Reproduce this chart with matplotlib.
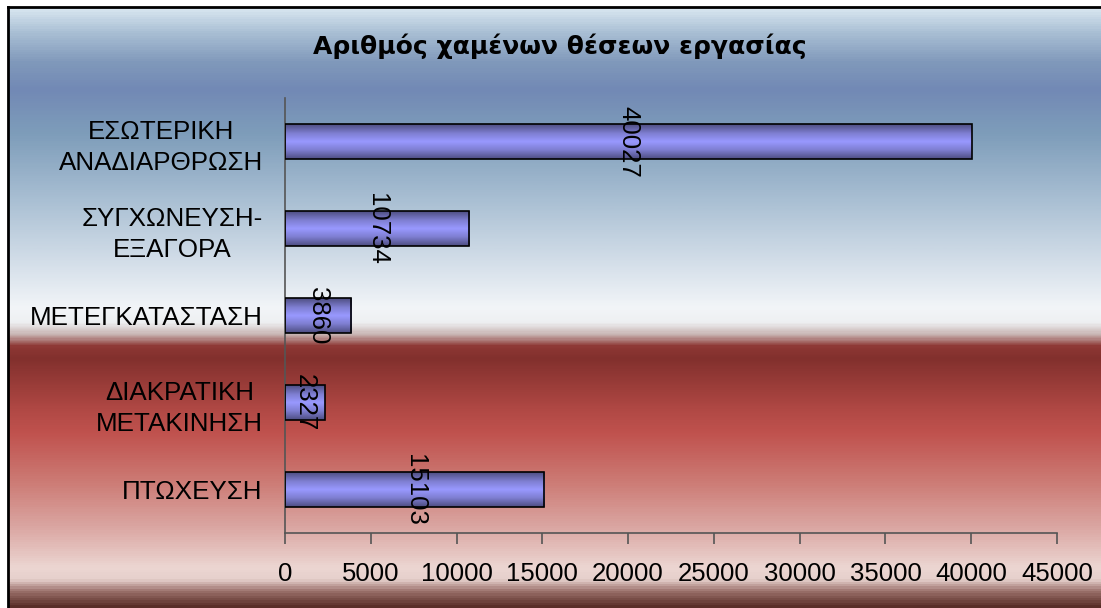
import numpy as np
import matplotlib.pyplot as plt
from matplotlib.colors import LinearSegmentedColormap

# 數據
categories = ["ΕΣΩΤΕΡΙΚΗ\nΑΝΑΔΙΑΡΘΡΩΣΗ", "ΣΥΓΧΩΝΕΥΣΗ-\nΕΞΑΓΟΡΑ", "ΜΕΤΕΓΚΑΤΑΣΤΑΣΗ",
              "ΔΙΑΚΡΑΤΙΚΗ\nΜΕΤΑΚΙΝΗΣΗ", "ΠΤΩΧΕΥΣΗ"]
values = [40027, 10734, 3860, 2327, 15103]
xticks = [0, 5000, 10000, 15000, 20000, 25000, 30000, 35000, 40000, 45000]
title = "Αριθμός χαμένων θέσεων εργασίας"

plt.rcParams['font.family'] = ['Liberation Sans', 'DejaVu Sans']

W, H = 1101, 608
fig = plt.figure(figsize=(W / 100, H / 100), dpi=100)
fig.patch.set_facecolor('white')

# 背景漸變 (由上至下)
bg_stops = [
    (0.00, '#d8e6f0'), (0.04, '#a9bfd4'), (0.09, '#8099bb'), (0.135, '#7289b5'),
    (0.21, '#7e9dba'), (0.32, '#a9bfd3'), (0.43, '#d6e0ea'), (0.50, '#f2f5f8'),
    (0.525, '#eef0f2'), (0.545, '#c8b4b2'), (0.565, '#8e3835'), (0.585, '#82302d'),
    (0.67, '#b04844'), (0.71, '#c0524e'), (0.79, '#cc7a74'), (0.87, '#dba8a4'),
    (0.935, '#ecd6d2'), (0.955, '#e6d0cc'), (0.975, '#9a706a'), (1.00, '#5a2e28'),
]
bg_cmap = LinearSegmentedColormap.from_list('bg', bg_stops)
top_px = 7
bg = fig.add_axes([8 / W, 0, 1 - 8 / W, (H - top_px) / H], zorder=-1)
bg.imshow(np.linspace(0, 1, 600).reshape(-1, 1), cmap=bg_cmap, aspect='auto',
          extent=[0, 1, 0, 1])
bg.set_xlim(0, 1)
bg.set_ylim(0, 1)
bg.set_xticks([])
bg.set_yticks([])
for side, sp in bg.spines.items():
    sp.set_visible(side in ('top', 'left'))
    sp.set_linewidth(2)
    sp.set_color('black')

# 主圖
ax = fig.add_axes([285 / W, 75 / H, (1057 - 285) / W, (533 - 98) / H])
ax.patch.set_alpha(0)
pos = np.arange(len(categories))
bars = ax.barh(pos, values, height=0.4, color='none', edgecolor='black',
               linewidth=1.2, zorder=3)

# 柱內漸變
bar_cmap = LinearSegmentedColormap.from_list(
    'bar', [(0, '#4e4e82'), (0.25, '#7d7dcf'), (0.5, '#9999ff'),
            (0.75, '#7d7dcf'), (1, '#4e4e82')])
grad = np.linspace(0, 1, 64).reshape(-1, 1)
for b in bars:
    x0, y0 = b.get_x(), b.get_y()
    im = ax.imshow(grad, cmap=bar_cmap, aspect='auto', zorder=2.5,
                   extent=[x0, x0 + b.get_width(), y0 + b.get_height(), y0])
    im.set_clip_path(b)
ax.set_xlim(0, 45000)
ax.set_ylim(len(categories) - 0.5, -0.5)

# 數值標籤
for b, v in zip(bars, values):
    ax.text(b.get_x() + b.get_width() / 2, b.get_y() + b.get_height() / 2, str(v),
            rotation=270, ha='center', va='center', fontsize=18.5, zorder=5)

ax.set_xticks(xticks)
ax.set_xticklabels([str(t) for t in xticks], fontsize=18.5)
ax.set_yticks(pos)
ax.set_yticklabels(categories, fontsize=18.7, multialignment='center', linespacing=1.38)
ax.tick_params(axis='y', length=0, pad=16)
ax.tick_params(axis='x', length=8, width=1.2, color='#555555', pad=13, direction='out')
for side in ('top', 'right'):
    ax.spines[side].set_visible(False)
for side in ('left', 'bottom'):
    ax.spines[side].set_color('#555555')
    ax.spines[side].set_linewidth(1.2)

fig.text(560 / W, 1 - 46 / H, title, ha='center', va='center', fontsize=18,
         fontweight='bold', family='DejaVu Sans')

fig.savefig('out.png', dpi=100)
